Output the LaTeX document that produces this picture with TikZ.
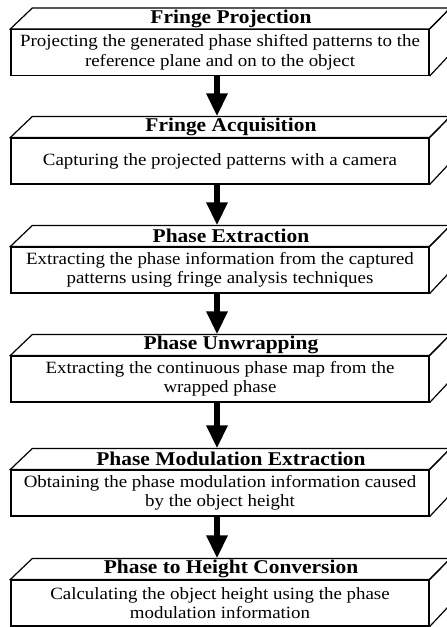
\documentclass[tikz,border=0pt]{standalone}
\usepackage{fontspec}
\setmainfont[FakeStretch=1.1]{Liberation Serif}
\usetikzlibrary{arrows.meta}
\newcommand\mkbox[4]{%
  \node[front] (#1) at (220,#2) {#4};
  \draw[face] (#1.north west) -- ++(22,-21) coordinate (#1-tl) -- ++(418,0) coordinate (#1-tr) -- (#1.north east) -- cycle;
  \draw[face] (#1.north east) -- (#1-tr) -- ++(0,46) -- (#1.south east);
  \node[ttl] (#1-t) at ([shift={(11,-10.5)}]#1.north) {#3};
}
\begin{document}
\begin{tikzpicture}[x=1pt,y=-1pt,
  front/.style={draw, line width=1.2pt, minimum width=418pt, minimum height=46pt, inner sep=0pt, align=center, font=\fontsize{17.2}{19.5}\selectfont},
  ttl/.style={font=\bfseries\fontsize{19.5}{20}\selectfont, inner sep=0pt},
  face/.style={draw, line width=1.2pt, line join=miter},
  flow/.style={line width=6pt, -{Triangle[width=20pt,length=23pt]}}]
\useasboundingbox (0,0) rectangle (447,627);
\clip (0,0) rectangle (447,627);
\mkbox{b1}{52.5}{Fringe Projection}{Projecting the generated phase shifted patterns to the\\reference plane and on to the object}
\mkbox{b2}{161}{Fringe Acquisition}{Capturing the projected patterns with a camera}
\mkbox{b3}{270}{Phase Extraction}{Extracting the phase information from the captured\\patterns using fringe analysis techniques}
\mkbox{b4}{379}{Phase Unwrapping}{Extracting the continuous phase map from the\\wrapped phase}
\mkbox{b5}{493}{Phase Modulation Extraction}{Obtaining the phase modulation information caused\\by the object height}
\mkbox{b6}{603}{Phase to Height Conversion}{Calculating the object height using the phase\\modulation information}
\draw[flow] ([xshift=-3pt]b1.south) -- ([xshift=-3pt]b1.south |- b2-tl);
\draw[flow] ([xshift=-3pt]b2.south) -- ([xshift=-3pt]b2.south |- b3-tl);
\draw[flow] ([xshift=-3pt]b3.south) -- ([xshift=-3pt]b3.south |- b4-tl);
\draw[flow] ([xshift=-3pt]b4.south) -- ([xshift=-3pt]b4.south |- b5-tl);
\draw[flow] ([xshift=-3pt]b5.south) -- ([xshift=-3pt]b5.south |- b6-tl);
\end{tikzpicture}
\end{document}
